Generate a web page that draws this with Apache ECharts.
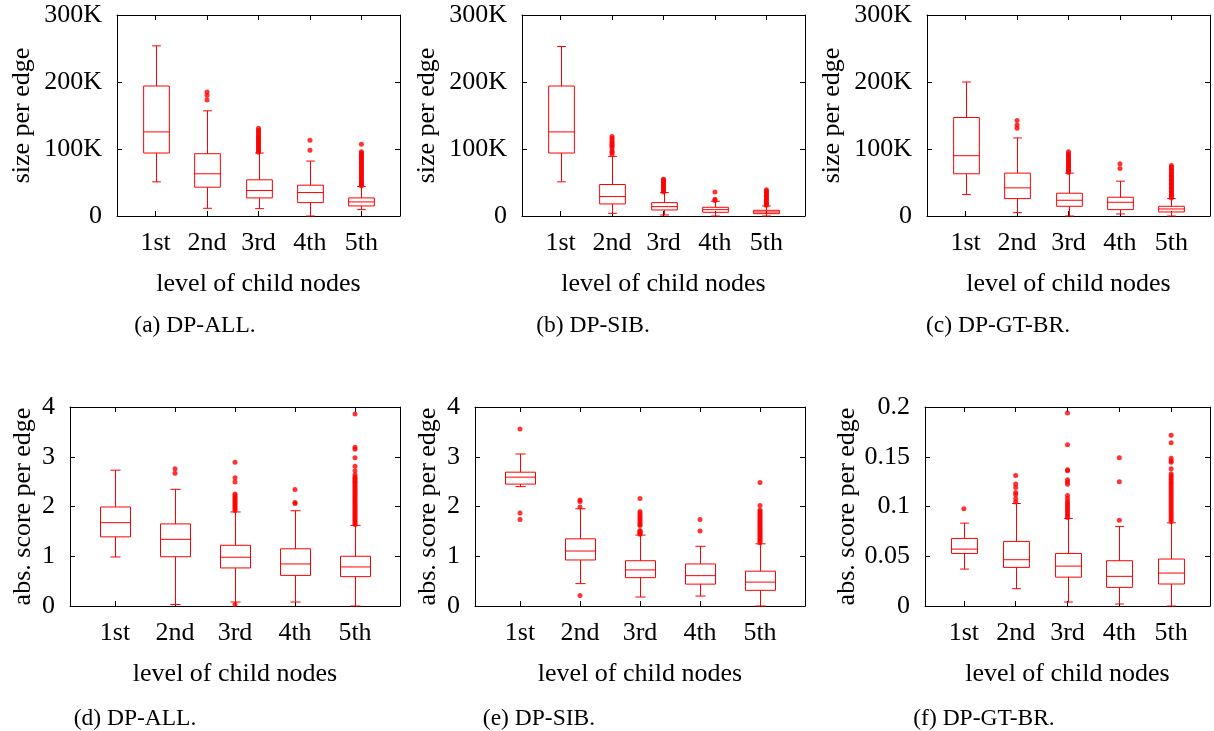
<!DOCTYPE html>
<html>
<head>
<meta charset="utf-8">
<script src="https://cdn.jsdelivr.net/npm/echarts@6/dist/echarts.min.js"></script>
<style>
html,body{margin:0;padding:0;background:#fff;}
#chart{width:1214px;height:731px;}
</style>
</head>
<body>
<div id="chart"></div>
<script>
// ---------- data ----------
const xLabels = ['1st', '2nd', '3rd', '4th', '5th'];
const xTitle = 'level of child nodes';

// (a) DP-ALL, size per edge (in K)
const aMin = [51, 11.5, 11, 0, 9.5];
const aQ1  = [94, 43, 27, 20, 15];
const aMed = [125.5, 63, 38, 35, 21];
const aQ3  = [194, 93, 54, 46, 27];
const aMax = [254, 157, 94, 82, 44];
const aOut = [
  [],
  [173, 180, 185],
  [95, 97, 99, 101, 103, 105, 107, 109, 111, 113, 115, 117, 119, 121, 124, 126, 128, 131],
  [98, 113],
  [45, 47, 48, 50, 52, 54, 56, 58, 60, 62, 64, 66, 68, 70, 72, 74, 76, 78, 80, 82, 84, 86, 88, 90, 92, 94, 96, 107]
];

// (b) DP-SIB, size per edge (in K)
const bMin = [51, 4, 1.5, 0, 0];
const bQ1  = [94, 18, 9, 5.5, 3.5];
const bMed = [125.5, 29, 14, 9.5, 6];
const bQ3  = [194, 47, 20, 13, 8.5];
const bMax = [253, 89, 35, 22, 15];
const bOut = [
  [],
  [92, 95, 97, 101, 104, 106, 108, 110, 113, 116, 118.5],
  [36, 38, 40, 42, 44, 46, 48, 50, 52, 54, 55],
  [23, 25, 36],
  [16, 17, 19, 21, 23, 25, 27, 29, 31, 33, 35, 37, 39]
];

// (c) DP-GT-BR, size per edge (in K)
const cMin = [32, 5, 0, 3, 0];
const cQ1  = [63, 26, 14.5, 9.5, 6];
const cMed = [90, 42, 23.5, 20.5, 10.5];
const cQ3  = [147, 64, 34, 28, 14.5];
const cMax = [200, 116.5, 64, 52, 26];
const cOut = [
  [],
  [131, 136, 142.5],
  [65, 67, 69, 71, 73, 75, 77, 79, 81, 83, 85, 87, 89, 91, 93, 96],
  [71, 78],
  [27, 29, 31, 33, 35, 37, 39, 41, 43, 45, 47, 49, 51, 53, 55, 57, 59, 61, 63, 65, 67, 69, 71, 73, 75.5]
];

// (d) DP-ALL, abs. score per edge
const dMin = [0.985, 0.03, 0.08, 0.08, 0];
const dQ1  = [1.39, 0.99, 0.765, 0.615, 0.59];
const dMed = [1.675, 1.34, 0.98, 0.845, 0.785];
const dQ3  = [1.99, 1.65, 1.22, 1.15, 1.0];
const dMax = [2.73, 2.345, 1.89, 1.915, 1.62];
const dOut = [
  [],
  [2.67, 2.76],
  [0.03, 1.92, 1.95, 1.98, 2.01, 2.04, 2.07, 2.1, 2.13, 2.16, 2.19, 2.22, 2.25, 2.49, 2.58, 2.89],
  [2.06, 2.08, 2.34],
  [1.64, 1.67, 1.70, 1.73, 1.76, 1.79, 1.82, 1.85, 1.88, 1.91, 1.94, 1.97, 2.0, 2.03, 2.06, 2.09, 2.12, 2.15, 2.18, 2.21, 2.24, 2.27, 2.3, 2.33, 2.36, 2.39, 2.42, 2.45, 2.48, 2.51, 2.54, 2.57, 2.6, 2.64, 2.72, 2.81, 2.98, 3.15, 3.19, 3.86]
];

// (e) DP-SIB, abs. score per edge
const eMin = [2.40, 0.45, 0.18, 0.2, 0];
const eQ1  = [2.45, 0.925, 0.57, 0.44, 0.315];
const eMed = [2.59, 1.105, 0.725, 0.61, 0.48];
const eQ3  = [2.69, 1.35, 0.91, 0.845, 0.70];
const eMax = [3.055, 1.955, 1.425, 1.2, 1.25];
const eOut = [
  [1.74, 1.87, 3.56],
  [0.21, 1.99, 2.1, 2.13],
  [1.44, 1.46, 1.48, 1.5, 1.52, 1.62, 1.64, 1.68, 1.71, 1.75, 1.78, 1.82, 1.86, 1.9, 2.16],
  [1.51, 1.74],
  [1.27, 1.3, 1.33, 1.36, 1.39, 1.42, 1.45, 1.48, 1.51, 1.54, 1.57, 1.6, 1.63, 1.66, 1.69, 1.72, 1.75, 1.78, 1.81, 1.84, 1.87, 1.9, 1.93, 2.02, 2.48]
];

// (f) DP-GT-BR, abs. score per edge
const fMin = [0.0371, 0.0174, 0.004, 0.002, 0];
const fQ1  = [0.0528, 0.0388, 0.029, 0.0187, 0.0221];
const fMed = [0.0572, 0.0465, 0.0401, 0.0298, 0.0331];
const fQ3  = [0.0679, 0.0649, 0.0528, 0.0455, 0.0472];
const fMax = [0.0833, 0.103, 0.088, 0.080, 0.0836];
const fOut = [
  [0.0977],
  [0.1045, 0.1077, 0.1117, 0.114, 0.119, 0.1227, 0.1311],
  [0.089, 0.091, 0.093, 0.095, 0.097, 0.099, 0.101, 0.103, 0.105, 0.108, 0.111, 0.1224, 0.1245, 0.127, 0.136, 0.137, 0.162, 0.194],
  [0.0863, 0.125, 0.149],
  [0.085, 0.087, 0.089, 0.091, 0.093, 0.095, 0.097, 0.099, 0.101, 0.103, 0.105, 0.107, 0.109, 0.111, 0.113, 0.115, 0.117, 0.119, 0.121, 0.123, 0.125, 0.127, 0.129, 0.131, 0.133, 0.138, 0.1445, 0.146, 0.1485, 0.164, 0.1716]
];

const captions = ['(a) DP-ALL.', '(b) DP-SIB.', '(c) DP-GT-BR.', '(d) DP-ALL.', '(e) DP-SIB.', '(f) DP-GT-BR.'];
const yTitles = ['size per edge', 'size per edge', 'size per edge', 'abs. score per edge', 'abs. score per edge', 'abs. score per edge'];

// ---------- layout / style ----------
const RED = '#ff0000';
const FONT = "'Liberation Serif', 'Times New Roman', serif";
const panels = [
  {box: [aMin, aQ1, aMed, aQ3, aMax], out: aOut, grid: {left: 117, top: 15, width: 283, height: 201}, y: {min: 0, max: 300, interval: 100, fmt: v => v === 0 ? '0' : v + 'K'}, nameGap: 82, cap: [195, 326]},
  {box: [bMin, bQ1, bMed, bQ3, bMax], out: bOut, grid: {left: 522, top: 15, width: 283, height: 201}, y: {min: 0, max: 300, interval: 100, fmt: v => v === 0 ? '0' : v + 'K'}, nameGap: 82, cap: [593, 326]},
  {box: [cMin, cQ1, cMed, cQ3, cMax], out: cOut, grid: {left: 927, top: 15, width: 283, height: 201}, y: {min: 0, max: 300, interval: 100, fmt: v => v === 0 ? '0' : v + 'K'}, nameGap: 82, cap: [998, 326]},
  {box: [dMin, dQ1, dMed, dQ3, dMax], out: dOut, grid: {left: 70, top: 407, width: 330, height: 199}, y: {min: 0, max: 4, interval: 1, fmt: v => String(v)}, nameGap: 34, cap: [135, 719]},
  {box: [eMin, eQ1, eMed, eQ3, eMax], out: eOut, grid: {left: 475, top: 407, width: 330, height: 199}, y: {min: 0, max: 4, interval: 1, fmt: v => String(v)}, nameGap: 34, cap: [539, 719]},
  {box: [fMin, fQ1, fMed, fQ3, fMax], out: fOut, grid: {left: 925, top: 407, width: 285, height: 199}, y: {min: 0, max: 0.2, interval: 0.05, fmt: v => String(+v.toFixed(2))}, nameGap: 64, cap: [984, 719]}
];

function renderBox(params, api) {
  const x = api.value(0);
  const lo = api.coord([x, api.value(1)]);
  const q1 = api.coord([x, api.value(2)]);
  const md = api.coord([x, api.value(3)]);
  const q3 = api.coord([x, api.value(4)]);
  const hi = api.coord([x, api.value(5)]);
  const bw = api.size([0.5, 0])[0];
  const cw = api.size([0.17, 0])[0];
  const cx = Math.round(lo[0]) + 0.5;
  const st = {stroke: RED, lineWidth: 1, fill: null};
  const L = (x1, y1, x2, y2) => ({type: 'line', shape: {x1, y1, x2, y2}, style: st});
  return {
    type: 'group',
    children: [
      {type: 'rect', shape: {x: cx - bw / 2, y: q3[1], width: bw, height: q1[1] - q3[1]}, style: {stroke: RED, lineWidth: 1, fill: 'none'}},
      L(cx - bw / 2, md[1], cx + bw / 2, md[1]),
      L(cx, q3[1], cx, hi[1]),
      L(cx, q1[1], cx, lo[1]),
      L(cx - cw / 2, hi[1], cx + cw / 2, hi[1]),
      L(cx - cw / 2, lo[1], cx + cw / 2, lo[1])
    ]
  };
}

const grids = [], xAxes = [], yAxes = [], series = [], graphics = [];
const axisLineStyle = {color: '#000', width: 1};
panels.forEach((p, k) => {
  grids.push(Object.assign({containLabel: false}, p.grid));
  const xBase = {
    type: 'value', gridIndex: k, min: 0.25, max: 5.75,
    splitLine: {show: false},
    axisLine: {show: true, lineStyle: axisLineStyle, onZero: false},
    axisTick: {show: true, inside: true, length: 5, lineStyle: axisLineStyle, customValues: [1, 2, 3, 4, 5]}
  };
  xAxes.push(Object.assign({}, xBase, {
    position: 'bottom',
    name: xTitle, nameLocation: 'middle', nameGap: 55,
    nameTextStyle: {fontFamily: FONT, fontSize: 26, color: '#000'},
    axisLabel: {show: true, customValues: [1, 2, 3, 4, 5], formatter: v => xLabels[Math.round(v) - 1], fontFamily: FONT, fontSize: 26, color: '#000', margin: 14}
  }));
  xAxes.push(Object.assign({}, xBase, {position: 'top', axisLabel: {show: false}}));
  const yBase = {
    type: 'value', gridIndex: k, min: p.y.min, max: p.y.max, interval: p.y.interval,
    splitLine: {show: false},
    axisLine: {show: true, lineStyle: axisLineStyle, onZero: false},
    axisTick: {show: true, inside: true, length: 5, lineStyle: axisLineStyle}
  };
  yAxes.push(Object.assign({}, yBase, {
    position: 'left',
    name: yTitles[k], nameLocation: 'middle', nameGap: p.nameGap,
    nameTextStyle: {fontFamily: FONT, fontSize: 26, color: '#000'},
    axisLabel: {show: true, formatter: p.y.fmt, fontFamily: FONT, fontSize: 26, color: '#000', margin: 15}
  }));
  yAxes.push(Object.assign({}, yBase, {position: 'right', axisLabel: {show: false}}));

  const boxData = xLabels.map((_, i) => [i + 1, p.box[0][i], p.box[1][i], p.box[2][i], p.box[3][i], p.box[4][i]]);
  series.push({
    type: 'custom', xAxisIndex: 2 * k, yAxisIndex: 2 * k,
    renderItem: renderBox, data: boxData,
    encode: {x: 0, y: [1, 2, 3, 4, 5]}, z: 2
  });
  const outData = [];
  p.out.forEach((arr, i) => arr.forEach(v => outData.push([i + 1, v])));
  series.push({
    type: 'scatter', xAxisIndex: 2 * k, yAxisIndex: 2 * k,
    data: outData, symbol: 'circle', symbolSize: 5,
    itemStyle: {color: RED}, z: 3
  });
  graphics.push({
    type: 'text', x: p.cap[0], y: p.cap[1],
    style: {text: captions[k], fontFamily: FONT, fontSize: 23.5, fill: '#000', textAlign: 'center', textVerticalAlign: 'middle'}
  });
});

const chart = echarts.init(document.getElementById('chart'), null, {renderer: 'canvas'});
chart.setOption({
  animation: false,
  backgroundColor: '#fff',
  textStyle: {fontFamily: FONT},
  grid: grids,
  xAxis: xAxes,
  yAxis: yAxes,
  series: series,
  graphic: graphics
});
</script>
</body>
</html>
